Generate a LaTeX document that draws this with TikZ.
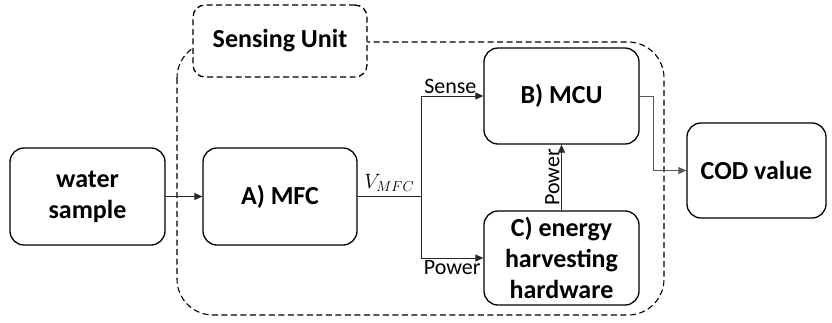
\documentclass[tikz,border=0pt]{standalone}
\usepackage{fontspec}
\setmainfont{Carlito}
\usepackage{tikz}
\usetikzlibrary{arrows.meta,positioning}
\tikzset{
  block/.style  = {draw, rounded corners=14pt, align=center, line width=1.3pt,
                   font=\fontsize{26}{31}\selectfont\bfseries, inner sep=2pt},
  unit/.style   = {draw, dashed, dash pattern=on 6pt off 3.5pt, line width=1.1pt},
  link/.style   = {-{Triangle[length=8pt,width=7pt]}, line width=0.8pt, draw=black!85},
  small/.style  = {font=\fontsize{22}{25}\selectfont, inner sep=1.5pt},
}
\begin{document}
\begin{tikzpicture}[x=1pt,y=-1pt]
      \useasboundingbox (0,0) rectangle (832,322);
      % sensing unit frame
      \draw[unit, rounded corners=36pt] (177,42) rectangle (664,315);
      \node[unit, block, fill=white, minimum width=174pt, minimum height=72pt,
            rounded corners=12pt] (su) at (280,41) {Sensing Unit};

      \node[block, minimum width=155pt, minimum height=97pt] (water) at (87.5,196.5) {water\\sample};
      \node[block, minimum width=154pt, minimum height=97pt] (mfc) at (280,196.5) {A) MFC};
      \node[block, minimum width=155pt, minimum height=96pt] (mcu) at (561.5,96) {B) MCU};
      \node[block, minimum width=155pt, minimum height=94pt] (ehh) at (561.5,258)
        {C) energy\\harvesting\\hardware};
      \node[block, minimum width=139pt, minimum height=95pt] (cod) at (756.5,170.5) {COD value};
      \coordinate (split) at (421,196.5);

      \draw[link] (water) -- (mfc);
      \draw[line width=0.8pt, draw=black!85] (mfc) -- node[above=1pt, font=\fontsize{22}{26}\selectfont] {$V_{MFC}$} (split);
      \draw[link] (split) |- node[pos=1, above left=0pt and 5pt, small] {Sense} (mcu.west);
      \draw[link] (split) |- node[pos=1, below left=0pt and 1pt, small] {Power} (ehh.west);
      \draw[link] (ehh) -- node[midway, rotate=90, anchor=south, small] {Power} (mcu);
      \draw[link, draw=black!65] (mcu.east) -- ++(14,0) |- (cod.west);
    \end{tikzpicture}
\end{document}
